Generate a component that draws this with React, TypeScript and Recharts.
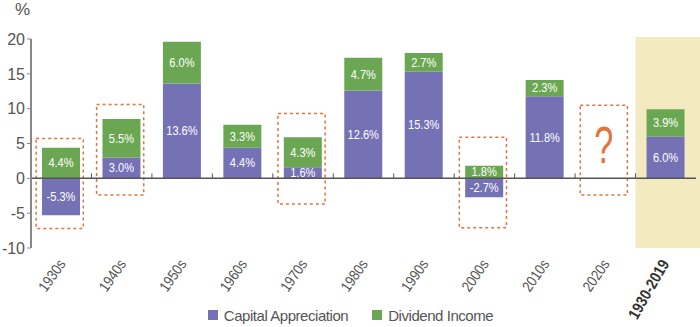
import React from 'react';
import { BarChart, Bar, XAxis, YAxis, ReferenceArea, ReferenceLine, LabelList, Legend } from 'recharts';

const categories = ['1930s', '1940s', '1950s', '1960s', '1970s', '1980s', '1990s', '2000s', '2010s', '2020s', '1930-2019'];
const capitalAppreciation = [-5.3, 3.0, 13.6, 4.4, 1.6, 12.6, 15.3, -2.7, 11.8, null, 6.0];
const dividendIncome = [4.4, 5.5, 6.0, 3.3, 4.3, 4.7, 2.7, 1.8, 2.3, null, 3.9];
const yTicks = [-10, -5, 0, 5, 10, 15, 20];

const boxCategories = ['1930s', '1940s', '1970s', '2000s', '2020s'];
const boxTop = [5.7, 10.6, 9.3, 5.9, 10.5];
const boxBottom = [-7.2, -2.4, -3.7, -7.1, -2.4];
const questionCategory = '2020s';
const highlightCategory = '1930-2019';

const data = categories.map((c, i) => ({
  cat: c,
  cap: capitalAppreciation[i],
  div: dividendIncome[i],
}));

const FONT = "'Liberation Sans', Arial, sans-serif";
const PURPLE = '#7571b5';
const GREEN = '#6ba752';
const ORANGE = '#e0763f';

const fmt = (v: any) => (v === null || v === undefined ? '' : `${Number(v).toFixed(1)}%`);

const BarLabel = (props: any) => {
  const { x, y, width, height, value } = props;
  if (value === null || value === undefined) return null;
  const cx = Number(x) + Number(width) / 2;
  const cy = Number(y) + Number(height) / 2;
  return (
    <text transform={`translate(${cx},${cy}) scale(0.82,1)`} textAnchor="middle" dominantBaseline="central"
      fill="#fff" fontSize={13.5} fontFamily={FONT}>
      {fmt(value)}
    </text>
  );
};

const DashedBox = (props: any) => {
  const { x, y, width, height } = props;
  const inset = width * 0.11;
  return (
    <rect x={x + inset - 1.5} y={y} width={width - 2 * inset} height={height}
      fill="none" stroke={ORANGE} strokeWidth={1.5} strokeDasharray="3 3" />
  );
};

const QuestionLabel = (props: any) => {
  const vb = props.viewBox || {};
  const cx = vb.x + vb.width / 2 - 1.5;
  const cy = vb.y + vb.height / 2 - 5;
  return (
    <text transform={`translate(${cx},${cy}) scale(0.66,1)`} textAnchor="middle" dominantBaseline="central"
      fill={ORANGE} fontSize={52} fontFamily={FONT}>?</text>
  );
};

const Highlight = (props: any) => {
  const { x, y, width, height } = props;
  return <rect x={x} y={y - 2} width={width + 4} height={height + 2} fill="#f4eac0" />;
};

const XTick = (props: any) => {
  const { x, y, payload } = props;
  const bold = payload.value === highlightCategory;
  const ax = x + (bold ? 4 : 5);
  const ay = y + (bold ? 15.5 : 16);
  return (
    <text transform={`translate(${ax},${ay}) rotate(${bold ? -60 : -55}) scale(0.86,1)`} textAnchor="end"
      fontFamily={FONT} fontSize={bold ? 16 : 15} fontWeight={bold ? 'bold' : 'normal'}
      fill={bold ? '#333' : '#555'}>
      {payload.value}
    </text>
  );
};

const LegendContent = () => (
  <div style={{ display: 'flex', justifyContent: 'center', alignItems: 'center', height: 24, fontFamily: FONT, fontSize: 15, color: '#555', letterSpacing: '-0.45px', paddingLeft: 4 }}>
    <span style={{ display: 'inline-block', width: 10, height: 10, background: PURPLE, marginRight: 6 }} />
    <span style={{ marginRight: 24 }}>Capital Appreciation</span>
    <span style={{ display: 'inline-block', width: 10, height: 10, background: GREEN, marginRight: 6 }} />
    <span>Dividend Income</span>
  </div>
);

export default function App() {
  return (
    <div style={{ position: 'absolute', left: 0, top: 0, width: 700, height: 327, background: '#fff' }}>
      <div style={{ position: 'absolute', left: 15, top: 0, fontFamily: FONT, fontSize: 17, color: '#555' }}>%</div>
      <BarChart width={700} height={327} data={data} stackOffset="sign"
        margin={{ top: 39, right: 4, left: 1, bottom: 0 }} barSize={38}>
        <ReferenceArea x1={highlightCategory} x2={highlightCategory} y1={-10} y2={20}
          shape={<Highlight />} />
        <XAxis dataKey="cat" axisLine={false} tickLine={false} tickSize={0} tickMargin={0} interval={0} height={55} tick={<XTick />} />
        <YAxis domain={[-10, 20]} ticks={yTicks} width={30} allowDataOverflow
          axisLine={{ stroke: '#888', strokeWidth: 2 }} tickLine={{ stroke: '#888' }} tickSize={4}
          tick={{ fill: '#555', fontSize: 16, fontFamily: FONT }} />
        <Bar dataKey="cap" stackId="a" fill={PURPLE} isAnimationActive={false}>
          <LabelList dataKey="cap" content={<BarLabel />} />
        </Bar>
        <Bar dataKey="div" stackId="a" fill={GREEN} isAnimationActive={false}>
          <LabelList dataKey="div" content={<BarLabel />} />
        </Bar>
        <ReferenceLine y={0} stroke="#555" strokeWidth={1.5} />
        {categories.map((c) => (
          <ReferenceLine key={'t' + c} segment={[{ x: c, y: 0 }, { x: c, y: 0.7 }]} position="start" stroke="#555" strokeWidth={1} />
        ))}
        {boxCategories.map((c, i) => (
          <ReferenceArea key={'b' + c} x1={c} x2={c} y1={boxBottom[i]} y2={boxTop[i]} shape={<DashedBox />}
            label={c === questionCategory ? <QuestionLabel /> : undefined} />
        ))}
        <Legend content={<LegendContent />} verticalAlign="bottom" height={24} />
      </BarChart>
    </div>
  );
}
